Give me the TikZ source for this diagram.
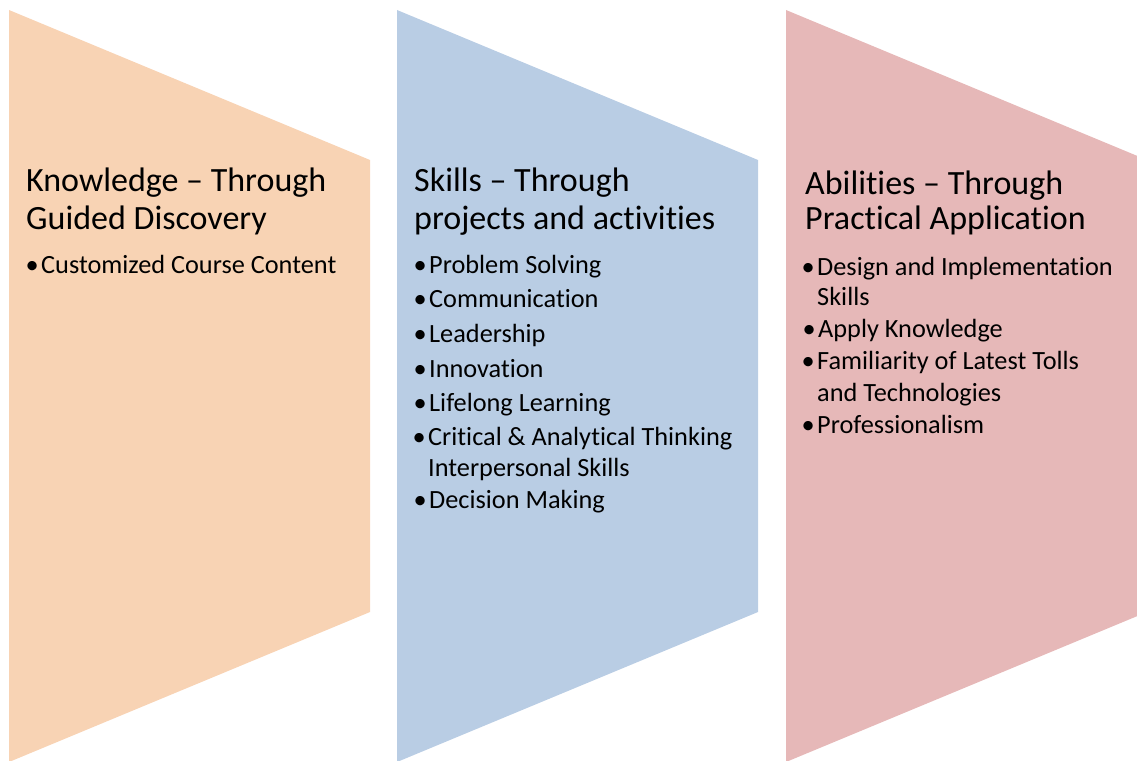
\documentclass[tikz,border=0pt]{standalone}
\usepackage{fontspec}
\setmainfont{Carlito}[Ligatures={NoCommon,NoContextual},RawFeature={-liga;-clig;-dlig}]
\newcommand\tbrk{t\kern0pt{}i}
\definecolor{peach}{HTML}{F8D3B4}
\definecolor{skyb}{HTML}{B9CDE4}
\definecolor{rosep}{HTML}{E6B8B8}
\begin{document}
\begin{tikzpicture}[x=1pt,y=-1pt,
  ttl/.style={anchor=base west, inner sep=0pt, font=\fontsize{34}{39}\selectfont},
  itm/.style={anchor=base west, inner sep=0pt, font=\fontsize{26.3}{31.7}\selectfont},
  bul/.style={itm, execute at begin node={\llap{\textbullet\hspace{2.5pt}}}}]
\useasboundingbox (0,0) rectangle (1137,760);
% panels
\fill[peach] (9,10) -- (370,160) -- (370,612) -- (9,762) -- cycle;
\fill[skyb] (397,10) -- (758,160) -- (758,612) -- (397,762) -- cycle;
\fill[rosep] (786,10) -- (1137,155.8) -- (1137,616.2) -- (786,762) -- cycle;
% column 1
\node[ttl] (k1) at (26,191) {Knowledge – Through};
\node[ttl] (k2) at (26,229) {Guided Discovery};
\node[bul] (ka) at (41,273) {Customized Course Content};
% column 2
\node[ttl] (s1) at (414,191) {Skills – Through};
\node[ttl] (s2) at (414,229) {projects and ac\tbrk vi\tbrk es};
\node[bul] (sa) at (429,273) {Problem Solving};
\node[bul] (sb) at (429,307) {Communica\tbrk on};
\node[bul] (sc) at (429,342) {Leadership};
\node[bul] (sd) at (429,377) {Innova\tbrk on};
\node[bul] (se) at (429,411) {Lifelong Learning};
\node[bul] (sf) at (428,445) {Cri\tbrk cal \& Analy\tbrk cal Thinking};
\node[itm] (sg) at (428,476) {Interpersonal Skills};
\node[bul] (sh) at (429,508) {Decision Making};
% column 3
\node[ttl] (a1) at (805,194) {Abili\tbrk es – Through};
\node[ttl] (a2) at (805,229) {Prac\tbrk cal Applica\tbrk on};
\node[bul] (aa) at (817,275) {Design and Implementa\tbrk on};
\node[itm] (ab) at (817,305) {Skills};
\node[bul] (ac) at (818,337) {Apply Knowledge};
\node[bul] (ad) at (817,369) {Familiarity of Latest Tolls};
\node[itm] (ae) at (817,401) {and Technologies};
\node[bul] (af) at (817,433) {Professionalism};
\end{tikzpicture}
\end{document}
